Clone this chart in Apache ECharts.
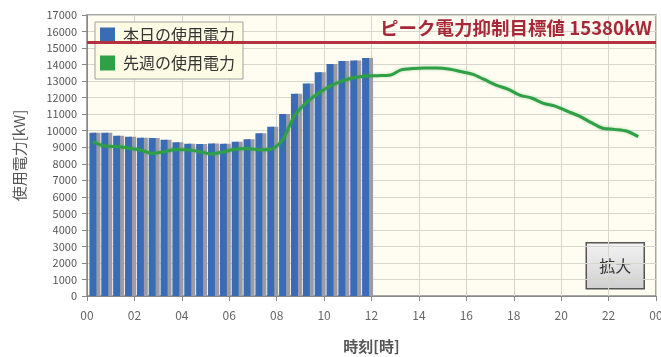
<!DOCTYPE html>
<html>
<head>
<meta charset="utf-8">
<script src="https://cdn.jsdelivr.net/npm/echarts@6/dist/echarts.min.js"></script>
<style>
html,body{margin:0;padding:0;background:#fff;}
#c{width:661px;height:357px;}
</style>
</head>
<body>
<div id="c"></div>
<script>
// Half-hour slots: value i covers [i*0.5, i*0.5+0.5) hours; plotted at slot middle
const slotHours = 0.5;
const xTickLabels = ['00','02','04','06','08','10','12','14','16','18','20','22','00'];
const todayName = '本日の使用電力';
const lastWeekName = '先週の使用電力';
const targetLabel = 'ピーク電力抑制目標値 15380kW';
const targetValue = 15380;

const todayValues = [9880, 9880, 9700, 9640, 9580, 9560, 9460, 9300, 9210, 9190, 9230, 9210,
  9335, 9480, 9840, 10240, 11010, 12240, 12860, 13530, 14030, 14210, 14250, 14400];

const lastWeekValues = [9330, 9080, 9040, 8950, 8830, 8630, 8720, 8870, 8840, 8730, 8590, 8720,
  8880, 8920, 8850, 8880, 9450, 10900, 11700, 12250, 12700, 13000, 13200, 13310,
  13330, 13350, 13680, 13760, 13790, 13790, 13730, 13580, 13420, 13100, 12760, 12520,
  12150, 11980, 11650, 11490, 11180, 10900, 10500, 10150, 10080, 9980, 9640];

const FONT = '"Noto Sans CJK JP", "Noto Sans", sans-serif';
const slotMid = i => i * slotHours + slotHours / 2;

const chart = echarts.init(document.getElementById('c'));
chart.setOption({
  animation: false,
  textStyle: { fontFamily: FONT },
  grid: {
    left: 87, right: 5, top: 15, bottom: 61,
    outerBoundsMode: 'none', containLabel: false,
    show: true, backgroundColor: '#fffdf1', borderColor: '#8a8a8a', borderWidth: 1.5
  },
  legend: {
    orient: 'vertical', left: 95, top: 22,
    backgroundColor: '#fdfbe4', borderColor: '#a0a0a0', borderWidth: 1,
    padding: [5, 8, 8, 5], itemWidth: 15, itemHeight: 15, itemGap: 12,
    icon: 'rect',
    textStyle: { fontSize: 16, color: '#333', fontFamily: FONT, padding: [0, 0, 0, 3] },
    data: [todayName, lastWeekName]
  },
  xAxis: {
    type: 'value', min: 0, max: 24, interval: 2,
    name: '時刻[時]', nameLocation: 'middle', nameGap: 43,
    nameTextStyle: { fontSize: 15, color: '#555', fontWeight: 'bold', fontFamily: FONT },
    axisLine: { show: true, lineStyle: { color: '#888' } },
    axisTick: { show: true, length: 5, lineStyle: { color: '#888' } },
    axisLabel: { fontSize: 12, color: '#666', margin: 13, fontFamily: FONT,
      formatter: v => xTickLabels[Math.round(v / 2)] },
    splitLine: { show: true, lineStyle: { color: '#d6d6ce' } }
  },
  yAxis: {
    type: 'value', min: 0, max: 17000, interval: 1000,
    name: '使用電力[kW]', nameLocation: 'middle', nameRotate: 90, nameGap: 60,
    nameTextStyle: { fontSize: 15, color: '#555', fontFamily: FONT },
    axisLine: { show: true, lineStyle: { color: '#888' } },
    axisTick: { show: true, length: 5, lineStyle: { color: '#888' } },
    axisLabel: { fontSize: 11, color: '#555', margin: 10, fontFamily: FONT,
      formatter: v => String(v) },
    splitLine: { show: true, lineStyle: { color: '#d6d6ce' } }
  },
  series: [
    {
      name: todayName, type: 'bar', barWidth: 7,
      itemStyle: { color: '#3a6cb5', shadowColor: '#9c9ca6', shadowOffsetX: 4, shadowOffsetY: 0, shadowBlur: 0 },
      data: todayValues.map((v, i) => [slotMid(i), v]),
      markLine: {
        silent: true, symbol: 'none',
        lineStyle: { color: '#b3313f', width: 3, type: 'solid' },
        label: {
          show: true, position: 'insideEndTop', formatter: targetLabel,
          fontSize: 18.5, fontWeight: 'bold', color: '#a8283a', fontFamily: FONT, distance: [4, 5]
        },
        data: [{ yAxis: targetValue }]
      },
      z: 2
    },
    {
      name: lastWeekName, type: 'line', smooth: 0.3, symbol: 'none',
      lineStyle: { color: '#2fa046', width: 3, shadowColor: 'rgba(47,160,70,0.4)', shadowBlur: 3 },
      itemStyle: { color: '#2fa046' },
      data: lastWeekValues.map((v, i) => [slotMid(i), v]),
      z: 3
    }
  ],
  graphic: [
    {
      type: 'group', right: 16, top: 242,
      children: [
        { type: 'rect', shape: { x: 0, y: 0, width: 58, height: 46 },
          style: { fill: new echarts.graphic.LinearGradient(0, 0, 0, 1, [
            { offset: 0, color: '#f4f4f4' }, { offset: 1, color: '#cfcfcf' }]),
            stroke: '#555', lineWidth: 1.5 } },
        { type: 'text', x: 29, y: 23,
          style: { text: '拡大', fontSize: 16, fill: '#333', fontFamily: FONT, align: 'center', verticalAlign: 'middle' } }
      ]
    }
  ]
});
</script>
</body>
</html>
